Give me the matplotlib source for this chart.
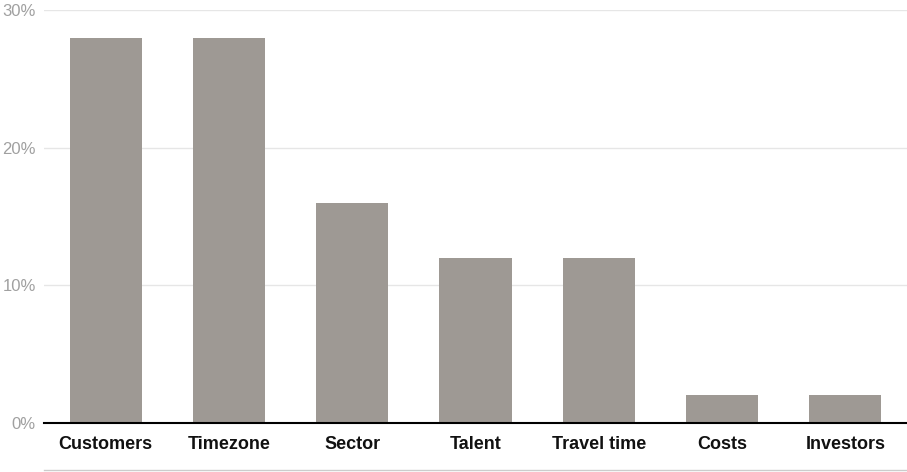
import matplotlib
matplotlib.use("Agg")
import matplotlib.pyplot as plt
from matplotlib.lines import Line2D

categories = ["Customers", "Timezone", "Sector", "Talent", "Travel time", "Costs", "Investors"]
values = [28, 28, 16, 12, 12, 2, 2]
yticks = [0, 10, 20, 30]
yticklabels = ["0%", "10%", "20%", "30%"]

plt.rcParams['font.family'] = ['Liberation Sans', 'DejaVu Sans']
fig = plt.figure(figsize=(9.07, 4.72), dpi=100)
ax = fig.add_axes([0.0485, 0.1038, 0.9515, 0.875])
ax.bar(range(len(categories)), values, width=0.585, color="#9e9994", zorder=2)
ax.set_xlim(-0.5, len(categories) - 0.5)
ax.set_ylim(0, 30)
ax.set_yticks(yticks)
ax.set_yticklabels(yticklabels, color="#a0a0a0", fontsize=12)
ax.set_xticks(range(len(categories)))
ax.set_xticklabels(categories, fontsize=13, fontweight="bold", color="#111111")
ax.tick_params(axis="both", length=0)
ax.tick_params(axis="y", pad=6)
ax.tick_params(axis="x", pad=9)
ax.grid(axis="y", color="#e6e6e6", linewidth=1, zorder=0)
for s in ["top", "right", "left"]:
    ax.spines[s].set_visible(False)
ax.spines["bottom"].set_color("black")
ax.spines["bottom"].set_linewidth(1.5)
ax.add_line(Line2D([0, 1], [-0.114, -0.114], transform=ax.transAxes, color="#cccccc", linewidth=1, clip_on=False))
fig.savefig("out.png", dpi=100)
